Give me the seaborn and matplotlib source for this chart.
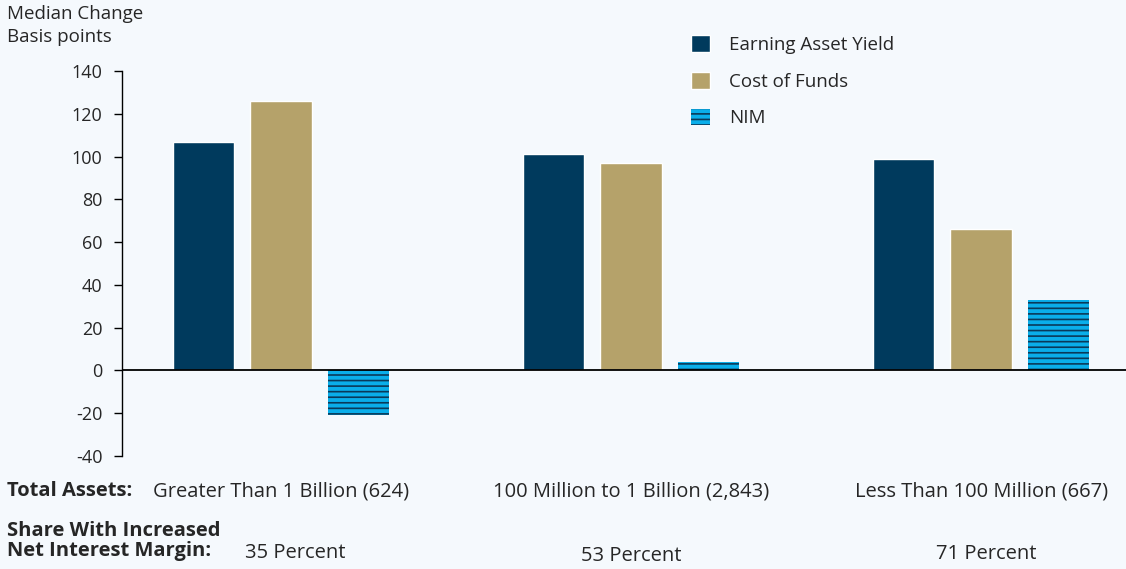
import pandas as pd
import seaborn as sns
import matplotlib.pyplot as plt
from matplotlib.patches import Patch
from matplotlib.transforms import blended_transform_factory

# data
groups = ["Greater Than 1 Billion (624)", "100 Million to 1 Billion (2,843)",
          "Less Than 100 Million (667)"]
series = ["Earning Asset Yield", "Cost of Funds", "NIM"]
earning_yield = [107, 101, 99]
cost_of_funds = [126, 97, 66]
nim = [-21, 4, 33]
share_increased = ["35 Percent", "53 Percent", "71 Percent"]
y_ticks = [-40, -20, 0, 20, 40, 60, 80, 100, 120, 140]

colors = ["#003A5D", "#B5A26A", "#0AAEEA"]
bg = "#F5F9FD"

df = pd.DataFrame({
    "group": groups * 3,
    "series": [s for s in series for _ in groups],
    "value": earning_yield + cost_of_funds + nim,
})

sns.set_style("white")
plt.rcParams["font.family"] = ["Open Sans", "DejaVu Sans"]
plt.rcParams["hatch.linewidth"] = 1.2

fig = plt.figure(figsize=(11.26, 5.69), dpi=100, facecolor=bg)
ax = fig.add_axes([122 / 1126, 1 - 456 / 569, 1 - 122 / 1126, 385 / 569])
ax.set_facecolor(bg)

sns.barplot(data=df, x="group", y="value", hue="series", order=groups,
            hue_order=series, palette=colors, width=0.664, gap=0.21,
            saturation=1, legend=False, ax=ax)

# striped NIM bars
for bar in ax.containers[2]:
    bar.set_hatch("---")
    bar.set_edgecolor("#0A3A5A")
    bar.set_linewidth(0)

ax.axhline(0, color="black", lw=1.3, zorder=3)
ax.set_ylim(-40, 140)
ax.set_xlim(-0.454, 2.414)
ax.set_yticks(y_ticks)
ax.set_yticklabels([str(t) for t in y_ticks], fontsize=13)
ax.tick_params(axis="y", length=6, width=1, color="black", left=True, pad=8)
ax.tick_params(axis="x", length=0, labelsize=14.5, pad=18)
ax.set_xlabel("")
ax.set_ylabel("")
for s in ["top", "right", "bottom"]:
    ax.spines[s].set_visible(False)
ax.spines["left"].set_color("black")
ax.spines["left"].set_linewidth(1)

fig.text(7 / 1126, 1 - 5 / 569, "Median Change\nBasis points", fontsize=13.5,
         va="top", ha="left", linespacing=1.35)

fig.text(7 / 1126, 1 - 491 / 569, "Total Assets:", fontsize=14.5,
         fontweight="bold", va="center", ha="left")
fig.text(7 / 1126, 1 - 541 / 569, "Share With Increased\nNet Interest Margin:",
         fontsize=14.5, fontweight="bold", va="center", ha="left",
         linespacing=1.0)

trans = blended_transform_factory(ax.transData, fig.transFigure)
offsets = [0.04, 0.0, 0.015]
y_pos = [553, 556, 554]
for i, txt in enumerate(share_increased):
    ax.text(i + offsets[i], 1 - y_pos[i] / 569, txt, transform=trans,
            fontsize=14.5, ha="center", va="center")

handles = [Patch(facecolor=colors[0]), Patch(facecolor=colors[1]),
           Patch(facecolor=colors[2], hatch="---", edgecolor="#0A3A5A", lw=0)]
fig.legend(handles, series, loc="upper left",
           bbox_to_anchor=(682 / 1126, 1 - 26 / 569), frameon=False,
           fontsize=13.5, handlelength=1.0, handleheight=1.0,
           handletextpad=1.0, labelspacing=0.95, borderpad=0)

fig.savefig("out.png", dpi=100, facecolor=bg)
